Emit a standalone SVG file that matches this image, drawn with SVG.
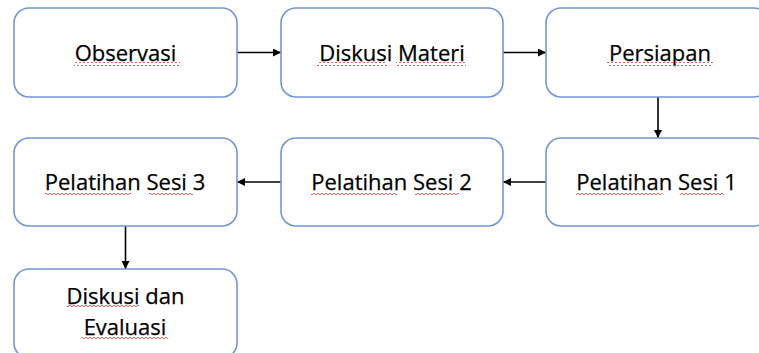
<svg xmlns="http://www.w3.org/2000/svg" width="759" height="353" viewBox="0 0 759 353">
  <style>
    .box { fill: #ffffff; stroke: #7396d6; stroke-width: 1.6; }
    .label { font-family: "Open Sans", "Noto Sans", sans-serif; font-size: 22px; fill: #000000; stroke: #000000; stroke-width: 0.25; text-anchor: middle; }
    .link { stroke: #000000; stroke-width: 1.6; fill: none; marker-end: url(#head); }
    .squiggle { fill: url(#wave); }
  </style>
  <defs>
    <marker id="head" viewBox="0 0 10 10" refX="10" refY="5" markerWidth="8" markerHeight="8" markerUnits="userSpaceOnUse" orient="auto">
      <path d="M0,0 L10,5 L0,10 z" fill="#000000"/>
    </marker>
    <!-- red spell-check squiggle -->
    <pattern id="wave" width="4" height="4" patternUnits="userSpaceOnUse">
      <path d="M0,3 L2,1 L4,3" fill="none" stroke="#e65050" stroke-width="0.9"/>
    </pattern>
  </defs>
  <rect width="759" height="353" fill="#ffffff"/>

  <g id="connectors">
    <line class="link" x1="237" y1="52.5" x2="281" y2="52.5"/>
    <line class="link" x1="503" y1="52.5" x2="546" y2="52.5"/>
    <line class="link" x1="658" y1="97" x2="658" y2="138"/>
    <line class="link" x1="546" y1="182" x2="503" y2="182"/>
    <line class="link" x1="281" y1="182" x2="237" y2="182"/>
    <line class="link" x1="125.5" y1="226" x2="125.5" y2="269"/>
  </g>

  <g id="observasi">
    <rect class="box" x="14" y="8" width="223" height="89" rx="15"/>
    <text class="label" x="125.5" y="61">Observasi</text>
    <rect class="squiggle" x="74" y="62" width="106" height="4"/>
  </g>

  <g id="diskusi-materi">
    <rect class="box" x="281" y="8" width="222" height="89" rx="15"/>
    <text class="label" x="392" y="61">Diskusi Materi</text>
    <rect class="squiggle" x="317" y="62" width="70" height="4"/>
    <rect class="squiggle" x="396" y="62" width="70" height="4"/>
  </g>

  <g id="persiapan">
    <rect class="box" x="546" y="8" width="223" height="89" rx="15"/>
    <text class="label" x="660" y="61">Persiapan</text>
    <rect class="squiggle" x="607" y="62" width="106" height="4"/>
  </g>

  <g id="pelatihan-sesi-1">
    <rect class="box" x="546" y="138" width="223" height="88" rx="15"/>
    <text class="label" x="656.5" y="190">Pelatihan Sesi 1</text>
    <rect class="squiggle" x="576" y="191" width="86" height="4"/>
    <rect class="squiggle" x="680" y="191" width="44" height="4"/>
  </g>

  <g id="pelatihan-sesi-2">
    <rect class="box" x="281" y="138" width="222" height="88" rx="15"/>
    <text class="label" x="391.5" y="190">Pelatihan Sesi 2</text>
    <rect class="squiggle" x="311" y="191" width="86" height="4"/>
    <rect class="squiggle" x="415" y="191" width="44" height="4"/>
  </g>

  <g id="pelatihan-sesi-3">
    <rect class="box" x="14" y="138" width="223" height="88" rx="15"/>
    <text class="label" x="125" y="190">Pelatihan Sesi 3</text>
    <rect class="squiggle" x="45" y="191" width="86" height="4"/>
    <rect class="squiggle" x="149" y="191" width="44" height="4"/>
  </g>

  <g id="diskusi-dan-evaluasi">
    <rect class="box" x="14" y="269" width="223" height="89" rx="15"/>
    <text class="label" x="125.5" y="304">Diskusi dan</text>
    <text class="label" x="125" y="335">Evaluasi</text>
    <rect class="squiggle" x="67" y="305" width="72" height="4"/>
    <rect class="squiggle" x="82" y="336" width="86" height="4"/>
  </g>
</svg>
